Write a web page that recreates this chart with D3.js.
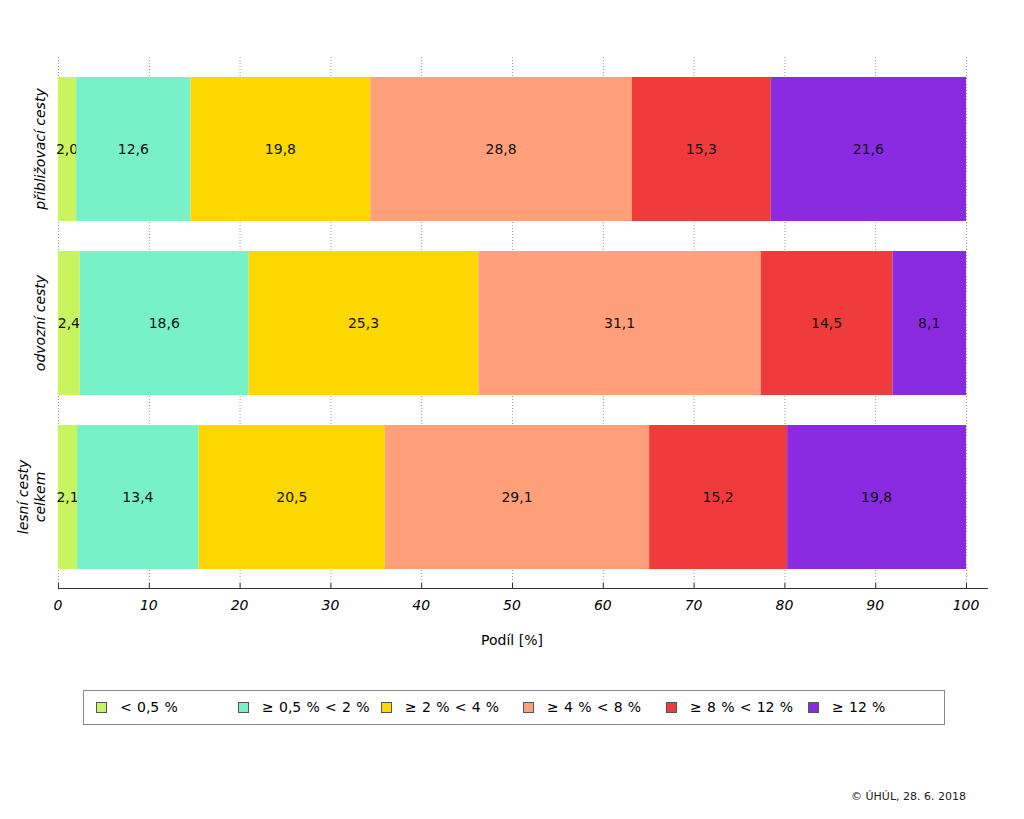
<!DOCTYPE html>
<html><head><meta charset="utf-8">
<script src="https://cdn.jsdelivr.net/npm/d3@7"></script>
<style>body{margin:0;background:#fff}svg{display:block;font-family:"DejaVu Sans",sans-serif}</style>
</head><body><svg id="c" width="1024" height="819"></svg>
<script>
const categories = [["přibližovací cesty"], ["odvozní cesty"], ["lesní cesty", "celkem"]];
const seriesNames = ["< 0,5 %", "≥ 0,5 % < 2 %", "≥ 2 % < 4 %", "≥ 4 % < 8 %", "≥ 8 % < 12 %", "≥ 12 %"];
const seriesColors = ["#c8f55e", "#78f0c8", "#fcd800", "#ffa07a", "#ef3b3b", "#8a2be2"];
const valuesPribl = [2.0, 12.6, 19.8, 28.8, 15.3, 21.6];
const valuesOdvoz = [2.4, 18.6, 25.3, 31.1, 14.5, 8.1];
const valuesCelkem = [2.1, 13.4, 20.5, 29.1, 15.2, 19.8];
const allValues = [valuesPribl, valuesOdvoz, valuesCelkem];
const xTicks = [0, 10, 20, 30, 40, 50, 60, 70, 80, 90, 100];

const svg = d3.select("#c");
const x = d3.scaleLinear().domain([0, 100]).range([58, 966]);
const y = d3.scaleBand().domain(d3.range(categories.length)).range([62, 584]).paddingInner(30/174).paddingOuter(15/174);

// grid
svg.append("g").selectAll("line").data(xTicks).join("line")
  .attr("x1", d => x(d) + 0.5).attr("x2", d => x(d) + 0.5)
  .attr("y1", 57).attr("y2", 588)
  .attr("stroke", "#999").attr("stroke-width", 1).attr("stroke-dasharray", "1,2");

// bars
allValues.forEach((vals, i) => {
  let cum = 0;
  const g = svg.append("g");
  vals.forEach((v, j) => {
    const x0 = x(cum), x1 = x(Math.min(cum + v, 100));
    g.append("rect").attr("x", x0).attr("y", y(i)).attr("width", x1 - x0).attr("height", y.bandwidth())
      .attr("fill", seriesColors[j]);
    g.append("text").attr("x", (x0 + x1) / 2).attr("y", y(i) + y.bandwidth() / 2 + 5)
      .attr("text-anchor", "middle").attr("font-size", 14).attr("fill", "#111")
      .text(d3.format(".1f")(v).replace(".", ","));
    cum += v;
  });
});

// x axis
svg.append("line").attr("x1", 58).attr("x2", 988).attr("y1", 588.5).attr("y2", 588.5).attr("stroke", "#333");
svg.append("g").selectAll("line").data(xTicks).join("line")
  .attr("x1", d => x(d) + 0.5).attr("x2", d => x(d) + 0.5).attr("y1", 583).attr("y2", 588)
  .attr("stroke", "#333");
svg.append("g").selectAll("text").data(xTicks).join("text")
  .attr("x", d => x(d)).attr("y", 610).attr("text-anchor", "middle")
  .attr("font-size", 14).attr("font-style", "italic").attr("fill", "#000").text(d => d);
svg.append("text").attr("x", 512).attr("y", 645).attr("text-anchor", "middle").attr("font-size", 14).text("Podíl [%]");

// y labels
categories.forEach((lines, i) => {
  const cy = y(i) + y.bandwidth() / 2;
  const t = svg.append("text").attr("transform", `translate(0,${cy}) rotate(-90)`)
    .attr("text-anchor", "middle").attr("font-size", 14).attr("font-style", "italic");
  const n = lines.length;
  lines.forEach((l, k) => {
    t.append("tspan").attr("x", 0).attr("y", 45 - (n - 1 - k) * 17).text(l);
  });
});

// legend
svg.append("rect").attr("x", 83.5).attr("y", 690.5).attr("width", 861).attr("height", 34)
  .attr("fill", "#fff").attr("stroke", "#888");
const legX = [96, 238, 381, 523, 666, 808];
seriesNames.forEach((s, j) => {
  svg.append("rect").attr("x", legX[j] + 0.5).attr("y", 702.5).attr("width", 10).attr("height", 10)
    .attr("fill", seriesColors[j]).attr("stroke", "#555");
  svg.append("text").attr("x", legX[j] + 24).attr("y", 712).attr("font-size", 14).attr("word-spacing", 0.8).text(s);
});

svg.append("text").attr("x", 966).attr("y", 800).attr("text-anchor", "end").attr("font-size", 11).attr("fill", "#222")
  .text("© ÚHÚL, 28. 6. 2018");
</script></body></html>
